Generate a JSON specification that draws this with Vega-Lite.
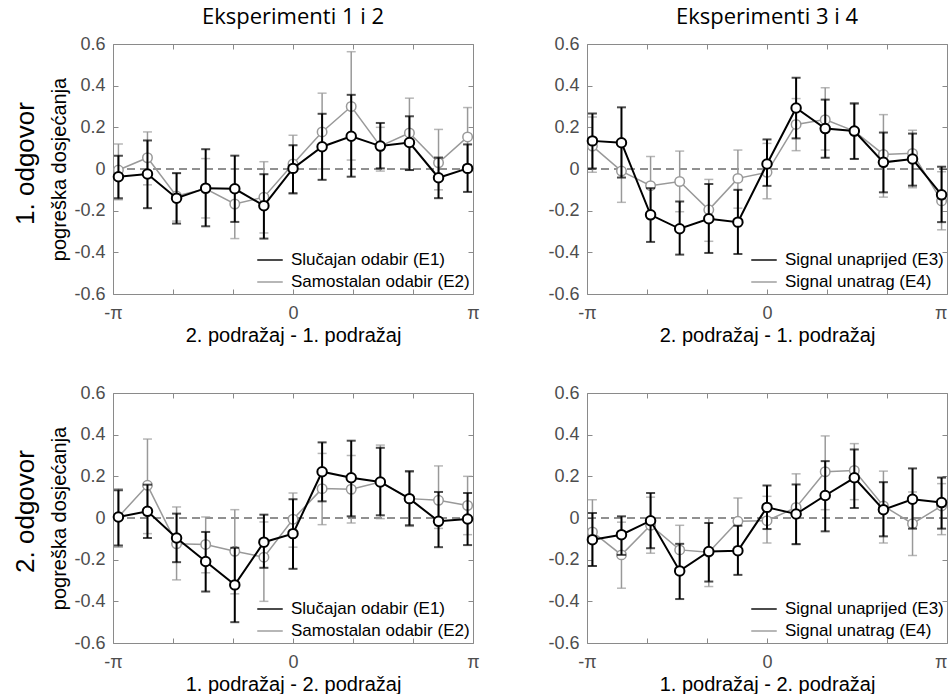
{
  "$schema": "https://vega.github.io/schema/vega-lite/v6.json",
  "padding": {"left": 11, "top": 5, "right": 0, "bottom": 0},
  "background": "#ffffff",
  "datasets": {
    "p1": [
      {"s": "Slučajan odabir (E1)", "x": -3.047, "m": -0.037, "lo": -0.14, "hi": 0.064},
      {"s": "Slučajan odabir (E1)", "x": -2.54, "m": -0.024, "lo": -0.188, "hi": 0.137},
      {"s": "Slučajan odabir (E1)", "x": -2.032, "m": -0.14, "lo": -0.262, "hi": -0.02},
      {"s": "Slučajan odabir (E1)", "x": -1.524, "m": -0.092, "lo": -0.275, "hi": 0.095},
      {"s": "Slučajan odabir (E1)", "x": -1.016, "m": -0.095, "lo": -0.254, "hi": 0.064},
      {"s": "Slučajan odabir (E1)", "x": -0.508, "m": -0.176, "lo": -0.334, "hi": -0.025},
      {"s": "Slučajan odabir (E1)", "x": 0, "m": 0.003, "lo": -0.116, "hi": 0.114},
      {"s": "Slučajan odabir (E1)", "x": 0.508, "m": 0.107, "lo": -0.052, "hi": 0.265},
      {"s": "Slučajan odabir (E1)", "x": 1.016, "m": 0.157, "lo": -0.037, "hi": 0.356},
      {"s": "Slučajan odabir (E1)", "x": 1.524, "m": 0.11, "lo": 0.003, "hi": 0.221},
      {"s": "Slučajan odabir (E1)", "x": 2.032, "m": 0.127, "lo": -0.005, "hi": 0.253},
      {"s": "Slučajan odabir (E1)", "x": 2.54, "m": -0.042, "lo": -0.14, "hi": 0.055},
      {"s": "Slučajan odabir (E1)", "x": 3.047, "m": 0.003, "lo": -0.11, "hi": 0.118},
      {"s": "Samostalan odabir (E2)", "x": -3.047, "m": -0.005, "lo": -0.148, "hi": 0.12},
      {"s": "Samostalan odabir (E2)", "x": -2.54, "m": 0.054, "lo": -0.076, "hi": 0.178},
      {"s": "Samostalan odabir (E2)", "x": -2.032, "m": -0.13, "lo": -0.25, "hi": -0.02},
      {"s": "Samostalan odabir (E2)", "x": -1.524, "m": -0.095, "lo": -0.235, "hi": 0.05},
      {"s": "Samostalan odabir (E2)", "x": -1.016, "m": -0.168, "lo": -0.334, "hi": 0.0},
      {"s": "Samostalan odabir (E2)", "x": -0.508, "m": -0.135, "lo": -0.307, "hi": 0.035},
      {"s": "Samostalan odabir (E2)", "x": 0, "m": 0.024, "lo": -0.12, "hi": 0.162},
      {"s": "Samostalan odabir (E2)", "x": 0.508, "m": 0.178, "lo": 0.0, "hi": 0.364},
      {"s": "Samostalan odabir (E2)", "x": 1.016, "m": 0.3, "lo": 0.043, "hi": 0.563},
      {"s": "Samostalan odabir (E2)", "x": 1.524, "m": 0.11, "lo": -0.01, "hi": 0.2},
      {"s": "Samostalan odabir (E2)", "x": 2.032, "m": 0.173, "lo": -0.005, "hi": 0.34},
      {"s": "Samostalan odabir (E2)", "x": 2.54, "m": 0.03, "lo": -0.1, "hi": 0.19},
      {"s": "Samostalan odabir (E2)", "x": 3.047, "m": 0.154, "lo": 0.02, "hi": 0.295}
    ],
    "p2": [
      {"s": "Signal unaprijed (E3)", "x": -3.047, "m": 0.135, "lo": 0.003, "hi": 0.266},
      {"s": "Signal unaprijed (E3)", "x": -2.54, "m": 0.126, "lo": -0.041, "hi": 0.296},
      {"s": "Signal unaprijed (E3)", "x": -2.032, "m": -0.22, "lo": -0.35, "hi": -0.092},
      {"s": "Signal unaprijed (E3)", "x": -1.524, "m": -0.287, "lo": -0.411, "hi": -0.156},
      {"s": "Signal unaprijed (E3)", "x": -1.016, "m": -0.239, "lo": -0.403, "hi": -0.072},
      {"s": "Signal unaprijed (E3)", "x": -0.508, "m": -0.255, "lo": -0.408, "hi": -0.1},
      {"s": "Signal unaprijed (E3)", "x": 0, "m": 0.024, "lo": -0.081, "hi": 0.142},
      {"s": "Signal unaprijed (E3)", "x": 0.508, "m": 0.293, "lo": 0.147, "hi": 0.438},
      {"s": "Signal unaprijed (E3)", "x": 1.016, "m": 0.194, "lo": 0.054, "hi": 0.333},
      {"s": "Signal unaprijed (E3)", "x": 1.524, "m": 0.182, "lo": 0.048, "hi": 0.314},
      {"s": "Signal unaprijed (E3)", "x": 2.032, "m": 0.032, "lo": -0.112, "hi": 0.175},
      {"s": "Signal unaprijed (E3)", "x": 2.54, "m": 0.048, "lo": -0.08, "hi": 0.17},
      {"s": "Signal unaprijed (E3)", "x": 3.047, "m": -0.124, "lo": -0.255, "hi": 0.011},
      {"s": "Signal unatrag (E4)", "x": -3.047, "m": 0.11, "lo": -0.016, "hi": 0.25},
      {"s": "Signal unatrag (E4)", "x": -2.54, "m": -0.01, "lo": -0.16, "hi": 0.13},
      {"s": "Signal unatrag (E4)", "x": -2.032, "m": -0.08, "lo": -0.22, "hi": 0.06},
      {"s": "Signal unatrag (E4)", "x": -1.524, "m": -0.06, "lo": -0.205, "hi": 0.086},
      {"s": "Signal unatrag (E4)", "x": -1.016, "m": -0.196, "lo": -0.347, "hi": -0.05},
      {"s": "Signal unatrag (E4)", "x": -0.508, "m": -0.045, "lo": -0.188, "hi": 0.091},
      {"s": "Signal unatrag (E4)", "x": 0, "m": -0.016, "lo": -0.143, "hi": 0.123},
      {"s": "Signal unatrag (E4)", "x": 0.508, "m": 0.214, "lo": 0.088, "hi": 0.338},
      {"s": "Signal unatrag (E4)", "x": 1.016, "m": 0.237, "lo": 0.091, "hi": 0.39},
      {"s": "Signal unatrag (E4)", "x": 1.524, "m": 0.182, "lo": 0.05, "hi": 0.318},
      {"s": "Signal unatrag (E4)", "x": 2.032, "m": 0.07, "lo": -0.135, "hi": 0.261},
      {"s": "Signal unatrag (E4)", "x": 2.54, "m": 0.075, "lo": -0.09, "hi": 0.186},
      {"s": "Signal unatrag (E4)", "x": 3.047, "m": -0.153, "lo": -0.292, "hi": -0.013}
    ],
    "p3": [
      {"s": "Slučajan odabir (E1)", "x": -3.047, "m": 0.005, "lo": -0.132, "hi": 0.133},
      {"s": "Slučajan odabir (E1)", "x": -2.54, "m": 0.032, "lo": -0.096, "hi": 0.16},
      {"s": "Slučajan odabir (E1)", "x": -2.032, "m": -0.096, "lo": -0.212, "hi": 0.021},
      {"s": "Slučajan odabir (E1)", "x": -1.524, "m": -0.209, "lo": -0.353, "hi": -0.067},
      {"s": "Slučajan odabir (E1)", "x": -1.016, "m": -0.321, "lo": -0.5, "hi": -0.143},
      {"s": "Slučajan odabir (E1)", "x": -0.508, "m": -0.116, "lo": -0.239, "hi": 0.016},
      {"s": "Slučajan odabir (E1)", "x": 0, "m": -0.075, "lo": -0.244, "hi": 0.09},
      {"s": "Slučajan odabir (E1)", "x": 0.508, "m": 0.222, "lo": 0.08, "hi": 0.363},
      {"s": "Slučajan odabir (E1)", "x": 1.016, "m": 0.193, "lo": 0.008, "hi": 0.371},
      {"s": "Slučajan odabir (E1)", "x": 1.524, "m": 0.173, "lo": 0.013, "hi": 0.337},
      {"s": "Slučajan odabir (E1)", "x": 2.032, "m": 0.093, "lo": -0.035, "hi": 0.225},
      {"s": "Slučajan odabir (E1)", "x": 2.54, "m": -0.016, "lo": -0.14, "hi": 0.125},
      {"s": "Slučajan odabir (E1)", "x": 3.047, "m": -0.005, "lo": -0.13, "hi": 0.12},
      {"s": "Samostalan odabir (E2)", "x": -3.047, "m": 0.005, "lo": -0.14, "hi": 0.141},
      {"s": "Samostalan odabir (E2)", "x": -2.54, "m": 0.157, "lo": -0.075, "hi": 0.379},
      {"s": "Samostalan odabir (E2)", "x": -2.032, "m": -0.124, "lo": -0.297, "hi": 0.053},
      {"s": "Samostalan odabir (E2)", "x": -1.524, "m": -0.127, "lo": -0.263, "hi": 0.005},
      {"s": "Samostalan odabir (E2)", "x": -1.016, "m": -0.16, "lo": -0.364, "hi": 0.04},
      {"s": "Samostalan odabir (E2)", "x": -0.508, "m": -0.188, "lo": -0.4, "hi": -0.019},
      {"s": "Samostalan odabir (E2)", "x": 0, "m": -0.006, "lo": -0.14, "hi": 0.12},
      {"s": "Samostalan odabir (E2)", "x": 0.508, "m": 0.141, "lo": -0.032, "hi": 0.31},
      {"s": "Samostalan odabir (E2)", "x": 1.016, "m": 0.138, "lo": -0.024, "hi": 0.3},
      {"s": "Samostalan odabir (E2)", "x": 1.524, "m": 0.173, "lo": -0.003, "hi": 0.35},
      {"s": "Samostalan odabir (E2)", "x": 2.032, "m": 0.093, "lo": -0.04, "hi": 0.22},
      {"s": "Samostalan odabir (E2)", "x": 2.54, "m": 0.085, "lo": -0.05, "hi": 0.25},
      {"s": "Samostalan odabir (E2)", "x": 3.047, "m": 0.06, "lo": -0.08, "hi": 0.2}
    ],
    "p4": [
      {"s": "Signal unaprijed (E3)", "x": -3.047, "m": -0.104, "lo": -0.23, "hi": 0.024},
      {"s": "Signal unaprijed (E3)", "x": -2.54, "m": -0.08, "lo": -0.177, "hi": 0.008},
      {"s": "Signal unaprijed (E3)", "x": -2.032, "m": -0.013, "lo": -0.145, "hi": 0.12},
      {"s": "Signal unaprijed (E3)", "x": -1.524, "m": -0.254, "lo": -0.389, "hi": -0.124},
      {"s": "Signal unaprijed (E3)", "x": -1.016, "m": -0.161, "lo": -0.305, "hi": -0.024},
      {"s": "Signal unaprijed (E3)", "x": -0.508, "m": -0.157, "lo": -0.273, "hi": -0.037},
      {"s": "Signal unaprijed (E3)", "x": 0, "m": 0.051, "lo": -0.053, "hi": 0.156},
      {"s": "Signal unaprijed (E3)", "x": 0.508, "m": 0.019, "lo": -0.125, "hi": 0.161},
      {"s": "Signal unaprijed (E3)", "x": 1.016, "m": 0.108, "lo": -0.064, "hi": 0.273},
      {"s": "Signal unaprijed (E3)", "x": 1.524, "m": 0.193, "lo": 0.048, "hi": 0.329},
      {"s": "Signal unaprijed (E3)", "x": 2.032, "m": 0.04, "lo": -0.088, "hi": 0.172},
      {"s": "Signal unaprijed (E3)", "x": 2.54, "m": 0.09, "lo": -0.051, "hi": 0.238},
      {"s": "Signal unaprijed (E3)", "x": 3.047, "m": 0.074, "lo": -0.051, "hi": 0.194},
      {"s": "Signal unatrag (E4)", "x": -3.047, "m": -0.067, "lo": -0.23, "hi": 0.088},
      {"s": "Signal unatrag (E4)", "x": -2.54, "m": -0.177, "lo": -0.337, "hi": -0.02},
      {"s": "Signal unatrag (E4)", "x": -2.032, "m": -0.035, "lo": -0.169, "hi": 0.1},
      {"s": "Signal unatrag (E4)", "x": -1.524, "m": -0.153, "lo": -0.27, "hi": -0.035},
      {"s": "Signal unatrag (E4)", "x": -1.016, "m": -0.164, "lo": -0.329, "hi": 0.0},
      {"s": "Signal unatrag (E4)", "x": -0.508, "m": -0.016, "lo": -0.137, "hi": 0.096},
      {"s": "Signal unatrag (E4)", "x": 0, "m": -0.013, "lo": -0.12, "hi": 0.104},
      {"s": "Signal unatrag (E4)", "x": 0.508, "m": 0.051, "lo": -0.128, "hi": 0.212},
      {"s": "Signal unatrag (E4)", "x": 1.016, "m": 0.222, "lo": 0.04, "hi": 0.394},
      {"s": "Signal unatrag (E4)", "x": 1.524, "m": 0.228, "lo": 0.088, "hi": 0.357},
      {"s": "Signal unatrag (E4)", "x": 2.032, "m": 0.058, "lo": -0.12, "hi": 0.225},
      {"s": "Signal unatrag (E4)", "x": 2.54, "m": -0.027, "lo": -0.18, "hi": 0.125},
      {"s": "Signal unatrag (E4)", "x": 3.047, "m": 0.058, "lo": -0.08, "hi": 0.165}
    ]
  },
  "columns": 2,
  "bounds": "flush",
  "spacing": {"row": 99, "column": 114},
  "resolve": {"scale": {"color": "independent"}},
  "concat": [
    {
      "width": 360, "height": 250,
      "title": {"text": "Eksperimenti 1 i 2"},
      "data": {"name": "p1"},
      "layer": [
        {"data": {"values": [{"zero": 0}]},
         "mark": {"type": "rule", "strokeDash": [8, 5], "color": "#222222", "strokeWidth": 1},
         "encoding": {"y": {"field": "zero", "type": "quantitative", "scale": {"domain": [-0.6, 0.6], "nice": false, "zero": false},
           "axis": {"orient": "left", "labels": false, "ticks": false, "domain": true, "domainColor": "transparent", "title": "1. odgovor", "titleFontSize": 26, "titlePadding": 75, "titleY": 119}}}},
        {"transform": [{"filter": {"field": "s", "equal": "Samostalan odabir (E2)"}}],
         "mark": {"type": "errorbar", "ticks": {"size": 9}, "thickness": 1.5},
         "encoding": {
           "x": {"field": "x", "type": "quantitative", "scale": {"domain": [-3.14159, 3.14159], "nice": false, "zero": false}, "axis": null},
           "y": {"field": "lo", "type": "quantitative", "scale": {"domain": [-0.6, 0.6], "nice": false, "zero": false}, "axis": null},
           "y2": {"field": "hi"},
           "color": {"field": "s", "type": "nominal", "scale": {"domain": ["Slučajan odabir (E1)", "Samostalan odabir (E2)"], "range": ["#000000", "#999999"]}}}},
        {"transform": [{"filter": {"field": "s", "equal": "Samostalan odabir (E2)"}}],
         "mark": {"type": "line", "strokeWidth": 1.5},
         "encoding": {
           "x": {"field": "x", "type": "quantitative", "axis": null},
           "y": {"field": "m", "type": "quantitative", "axis": null},
           "color": {"field": "s", "type": "nominal"}}},
        {"transform": [{"filter": {"field": "s", "equal": "Samostalan odabir (E2)"}}],
         "mark": {"type": "point", "shape": "circle", "filled": false, "fill": "#ffffff", "size": 90, "strokeWidth": 1.5, "opacity": 1},
         "encoding": {
           "x": {"field": "x", "type": "quantitative", "axis": {"orient": "top", "values": [-3.14159, -2.0944, -1.0472, 0, 1.0472, 2.0944, 3.14159], "labels": false, "title": null}},
           "y": {"field": "m", "type": "quantitative", "axis": {"orient": "right", "values": [-0.6, -0.4, -0.2, 0, 0.2, 0.4, 0.6], "labels": false, "title": null}},
           "color": {"field": "s", "type": "nominal"}}},
        {"transform": [{"filter": {"field": "s", "equal": "Slučajan odabir (E1)"}}],
         "mark": {"type": "errorbar", "ticks": {"size": 9}, "thickness": 2},
         "encoding": {
           "x": {"field": "x", "type": "quantitative", "axis": null},
           "y": {"field": "lo", "type": "quantitative", "axis": null},
           "y2": {"field": "hi"},
           "color": {"field": "s", "type": "nominal"}}},
        {"transform": [{"filter": {"field": "s", "equal": "Slučajan odabir (E1)"}}],
         "mark": {"type": "line", "strokeWidth": 2},
         "encoding": {
           "x": {"field": "x", "type": "quantitative", "axis": null},
           "y": {"field": "m", "type": "quantitative", "axis": null},
           "color": {"field": "s", "type": "nominal", "legend": {"title": null, "symbolType": "stroke", "orient": "none", "legendX": 143, "legendY": 202}}}},
        {"transform": [{"filter": {"field": "s", "equal": "Slučajan odabir (E1)"}}],
         "mark": {"type": "point", "shape": "circle", "filled": false, "fill": "#ffffff", "size": 90, "strokeWidth": 2, "opacity": 1},
         "encoding": {
           "x": {"field": "x", "type": "quantitative", "axis": {"orient": "bottom", "values": [-3.14159, -2.0944, -1.0472, 0, 1.0472, 2.0944, 3.14159], "labelPadding": 15, "labelExpr": "datum.value < -3 ? '-π' : (datum.value > 3 ? 'π' : (abs(datum.value) < 0.01 ? '0' : ''))", "title": "2. podražaj - 1. podražaj", "titleFontSize": 20, "titlePadding": 3}},
           "y": {"field": "m", "type": "quantitative", "axis": {"orient": "left", "values": [-0.6, -0.4, -0.2, 0, 0.2, 0.4, 0.6], "labelExpr": "datum.value == 0 ? '0' : (datum.value < 0 ? '-' : '') + format(abs(datum.value), '.1f')", "title": "pogreška dosjećanja", "titleFontSize": 20, "titlePadding": 4}},
           "color": {"field": "s", "type": "nominal"}}}
      ]
    },
    {
      "width": 360, "height": 250,
      "title": {"text": "Eksperimenti 3 i 4"},
      "data": {"name": "p2"},
      "layer": [
        {"data": {"values": [{"zero": 0}]},
         "mark": {"type": "rule", "strokeDash": [8, 5], "color": "#222222", "strokeWidth": 1},
         "encoding": {"y": {"field": "zero", "type": "quantitative", "scale": {"domain": [-0.6, 0.6], "nice": false, "zero": false}, "axis": null}}},
        {"transform": [{"filter": {"field": "s", "equal": "Signal unatrag (E4)"}}],
         "mark": {"type": "errorbar", "ticks": {"size": 9}, "thickness": 1.5},
         "encoding": {
           "x": {"field": "x", "type": "quantitative", "scale": {"domain": [-3.14159, 3.14159], "nice": false, "zero": false}, "axis": null},
           "y": {"field": "lo", "type": "quantitative", "scale": {"domain": [-0.6, 0.6], "nice": false, "zero": false}, "axis": null},
           "y2": {"field": "hi"},
           "color": {"field": "s", "type": "nominal", "scale": {"domain": ["Signal unaprijed (E3)", "Signal unatrag (E4)"], "range": ["#000000", "#999999"]}}}},
        {"transform": [{"filter": {"field": "s", "equal": "Signal unatrag (E4)"}}],
         "mark": {"type": "line", "strokeWidth": 1.5},
         "encoding": {
           "x": {"field": "x", "type": "quantitative", "axis": null},
           "y": {"field": "m", "type": "quantitative", "axis": null},
           "color": {"field": "s", "type": "nominal"}}},
        {"transform": [{"filter": {"field": "s", "equal": "Signal unatrag (E4)"}}],
         "mark": {"type": "point", "shape": "circle", "filled": false, "fill": "#ffffff", "size": 90, "strokeWidth": 1.5, "opacity": 1},
         "encoding": {
           "x": {"field": "x", "type": "quantitative", "axis": {"orient": "top", "values": [-3.14159, -2.0944, -1.0472, 0, 1.0472, 2.0944, 3.14159], "labels": false, "title": null}},
           "y": {"field": "m", "type": "quantitative", "axis": {"orient": "right", "values": [-0.6, -0.4, -0.2, 0, 0.2, 0.4, 0.6], "labels": false, "title": null}},
           "color": {"field": "s", "type": "nominal"}}},
        {"transform": [{"filter": {"field": "s", "equal": "Signal unaprijed (E3)"}}],
         "mark": {"type": "errorbar", "ticks": {"size": 9}, "thickness": 2},
         "encoding": {
           "x": {"field": "x", "type": "quantitative", "axis": null},
           "y": {"field": "lo", "type": "quantitative", "axis": null},
           "y2": {"field": "hi"},
           "color": {"field": "s", "type": "nominal"}}},
        {"transform": [{"filter": {"field": "s", "equal": "Signal unaprijed (E3)"}}],
         "mark": {"type": "line", "strokeWidth": 2},
         "encoding": {
           "x": {"field": "x", "type": "quantitative", "axis": null},
           "y": {"field": "m", "type": "quantitative", "axis": null},
           "color": {"field": "s", "type": "nominal", "legend": {"title": null, "symbolType": "stroke", "orient": "none", "legendX": 163, "legendY": 202}}}},
        {"transform": [{"filter": {"field": "s", "equal": "Signal unaprijed (E3)"}}],
         "mark": {"type": "point", "shape": "circle", "filled": false, "fill": "#ffffff", "size": 90, "strokeWidth": 2, "opacity": 1},
         "encoding": {
           "x": {"field": "x", "type": "quantitative", "axis": {"orient": "bottom", "values": [-3.14159, -2.0944, -1.0472, 0, 1.0472, 2.0944, 3.14159], "labelPadding": 15, "labelAlign": {"condition": {"test": "datum.value > 3", "value": "right"}, "value": "center"}, "labelExpr": "datum.value < -3 ? '-π' : (datum.value > 3 ? 'π' : (abs(datum.value) < 0.01 ? '0' : ''))", "title": "2. podražaj - 1. podražaj", "titleFontSize": 20, "titlePadding": 3}},
           "y": {"field": "m", "type": "quantitative", "axis": {"orient": "left", "values": [-0.6, -0.4, -0.2, 0, 0.2, 0.4, 0.6], "labelExpr": "datum.value == 0 ? '0' : (datum.value < 0 ? '-' : '') + format(abs(datum.value), '.1f')", "title": null}},
           "color": {"field": "s", "type": "nominal"}}}
      ]
    },
    {
      "width": 360, "height": 250,
      "data": {"name": "p3"},
      "layer": [
        {"data": {"values": [{"zero": 0}]},
         "mark": {"type": "rule", "strokeDash": [8, 5], "color": "#222222", "strokeWidth": 1},
         "encoding": {"y": {"field": "zero", "type": "quantitative", "scale": {"domain": [-0.6, 0.6], "nice": false, "zero": false},
           "axis": {"orient": "left", "labels": false, "ticks": false, "domain": true, "domainColor": "transparent", "title": "2. odgovor", "titleFontSize": 26, "titlePadding": 75, "titleY": 118}}}},
        {"transform": [{"filter": {"field": "s", "equal": "Samostalan odabir (E2)"}}],
         "mark": {"type": "errorbar", "ticks": {"size": 9}, "thickness": 1.5},
         "encoding": {
           "x": {"field": "x", "type": "quantitative", "scale": {"domain": [-3.14159, 3.14159], "nice": false, "zero": false}, "axis": null},
           "y": {"field": "lo", "type": "quantitative", "scale": {"domain": [-0.6, 0.6], "nice": false, "zero": false}, "axis": null},
           "y2": {"field": "hi"},
           "color": {"field": "s", "type": "nominal", "scale": {"domain": ["Slučajan odabir (E1)", "Samostalan odabir (E2)"], "range": ["#000000", "#999999"]}}}},
        {"transform": [{"filter": {"field": "s", "equal": "Samostalan odabir (E2)"}}],
         "mark": {"type": "line", "strokeWidth": 1.5},
         "encoding": {
           "x": {"field": "x", "type": "quantitative", "axis": null},
           "y": {"field": "m", "type": "quantitative", "axis": null},
           "color": {"field": "s", "type": "nominal"}}},
        {"transform": [{"filter": {"field": "s", "equal": "Samostalan odabir (E2)"}}],
         "mark": {"type": "point", "shape": "circle", "filled": false, "fill": "#ffffff", "size": 90, "strokeWidth": 1.5, "opacity": 1},
         "encoding": {
           "x": {"field": "x", "type": "quantitative", "axis": {"orient": "top", "values": [-3.14159, -2.0944, -1.0472, 0, 1.0472, 2.0944, 3.14159], "labels": false, "title": null}},
           "y": {"field": "m", "type": "quantitative", "axis": {"orient": "right", "values": [-0.6, -0.4, -0.2, 0, 0.2, 0.4, 0.6], "labels": false, "title": null}},
           "color": {"field": "s", "type": "nominal"}}},
        {"transform": [{"filter": {"field": "s", "equal": "Slučajan odabir (E1)"}}],
         "mark": {"type": "errorbar", "ticks": {"size": 9}, "thickness": 2},
         "encoding": {
           "x": {"field": "x", "type": "quantitative", "axis": null},
           "y": {"field": "lo", "type": "quantitative", "axis": null},
           "y2": {"field": "hi"},
           "color": {"field": "s", "type": "nominal"}}},
        {"transform": [{"filter": {"field": "s", "equal": "Slučajan odabir (E1)"}}],
         "mark": {"type": "line", "strokeWidth": 2},
         "encoding": {
           "x": {"field": "x", "type": "quantitative", "axis": null},
           "y": {"field": "m", "type": "quantitative", "axis": null},
           "color": {"field": "s", "type": "nominal", "legend": {"title": null, "symbolType": "stroke", "orient": "none", "legendX": 143, "legendY": 202}}}},
        {"transform": [{"filter": {"field": "s", "equal": "Slučajan odabir (E1)"}}],
         "mark": {"type": "point", "shape": "circle", "filled": false, "fill": "#ffffff", "size": 90, "strokeWidth": 2, "opacity": 1},
         "encoding": {
           "x": {"field": "x", "type": "quantitative", "axis": {"orient": "bottom", "values": [-3.14159, -2.0944, -1.0472, 0, 1.0472, 2.0944, 3.14159], "labelPadding": 15, "labelExpr": "datum.value < -3 ? '-π' : (datum.value > 3 ? 'π' : (abs(datum.value) < 0.01 ? '0' : ''))", "title": "1. podražaj - 2. podražaj", "titleFontSize": 20, "titlePadding": 3}},
           "y": {"field": "m", "type": "quantitative", "axis": {"orient": "left", "values": [-0.6, -0.4, -0.2, 0, 0.2, 0.4, 0.6], "labelExpr": "datum.value == 0 ? '0' : (datum.value < 0 ? '-' : '') + format(abs(datum.value), '.1f')", "title": "pogreška dosjećanja", "titleFontSize": 20, "titlePadding": 4}},
           "color": {"field": "s", "type": "nominal"}}}
      ]
    },
    {
      "width": 360, "height": 250,
      "data": {"name": "p4"},
      "layer": [
        {"data": {"values": [{"zero": 0}]},
         "mark": {"type": "rule", "strokeDash": [8, 5], "color": "#222222", "strokeWidth": 1},
         "encoding": {"y": {"field": "zero", "type": "quantitative", "scale": {"domain": [-0.6, 0.6], "nice": false, "zero": false}, "axis": null}}},
        {"transform": [{"filter": {"field": "s", "equal": "Signal unatrag (E4)"}}],
         "mark": {"type": "errorbar", "ticks": {"size": 9}, "thickness": 1.5},
         "encoding": {
           "x": {"field": "x", "type": "quantitative", "scale": {"domain": [-3.14159, 3.14159], "nice": false, "zero": false}, "axis": null},
           "y": {"field": "lo", "type": "quantitative", "scale": {"domain": [-0.6, 0.6], "nice": false, "zero": false}, "axis": null},
           "y2": {"field": "hi"},
           "color": {"field": "s", "type": "nominal", "scale": {"domain": ["Signal unaprijed (E3)", "Signal unatrag (E4)"], "range": ["#000000", "#999999"]}}}},
        {"transform": [{"filter": {"field": "s", "equal": "Signal unatrag (E4)"}}],
         "mark": {"type": "line", "strokeWidth": 1.5},
         "encoding": {
           "x": {"field": "x", "type": "quantitative", "axis": null},
           "y": {"field": "m", "type": "quantitative", "axis": null},
           "color": {"field": "s", "type": "nominal"}}},
        {"transform": [{"filter": {"field": "s", "equal": "Signal unatrag (E4)"}}],
         "mark": {"type": "point", "shape": "circle", "filled": false, "fill": "#ffffff", "size": 90, "strokeWidth": 1.5, "opacity": 1},
         "encoding": {
           "x": {"field": "x", "type": "quantitative", "axis": {"orient": "top", "values": [-3.14159, -2.0944, -1.0472, 0, 1.0472, 2.0944, 3.14159], "labels": false, "title": null}},
           "y": {"field": "m", "type": "quantitative", "axis": {"orient": "right", "values": [-0.6, -0.4, -0.2, 0, 0.2, 0.4, 0.6], "labels": false, "title": null}},
           "color": {"field": "s", "type": "nominal"}}},
        {"transform": [{"filter": {"field": "s", "equal": "Signal unaprijed (E3)"}}],
         "mark": {"type": "errorbar", "ticks": {"size": 9}, "thickness": 2},
         "encoding": {
           "x": {"field": "x", "type": "quantitative", "axis": null},
           "y": {"field": "lo", "type": "quantitative", "axis": null},
           "y2": {"field": "hi"},
           "color": {"field": "s", "type": "nominal"}}},
        {"transform": [{"filter": {"field": "s", "equal": "Signal unaprijed (E3)"}}],
         "mark": {"type": "line", "strokeWidth": 2},
         "encoding": {
           "x": {"field": "x", "type": "quantitative", "axis": null},
           "y": {"field": "m", "type": "quantitative", "axis": null},
           "color": {"field": "s", "type": "nominal", "legend": {"title": null, "symbolType": "stroke", "orient": "none", "legendX": 163, "legendY": 202}}}},
        {"transform": [{"filter": {"field": "s", "equal": "Signal unaprijed (E3)"}}],
         "mark": {"type": "point", "shape": "circle", "filled": false, "fill": "#ffffff", "size": 90, "strokeWidth": 2, "opacity": 1},
         "encoding": {
           "x": {"field": "x", "type": "quantitative", "axis": {"orient": "bottom", "values": [-3.14159, -2.0944, -1.0472, 0, 1.0472, 2.0944, 3.14159], "labelPadding": 15, "labelAlign": {"condition": {"test": "datum.value > 3", "value": "right"}, "value": "center"}, "labelExpr": "datum.value < -3 ? '-π' : (datum.value > 3 ? 'π' : (abs(datum.value) < 0.01 ? '0' : ''))", "title": "1. podražaj - 2. podražaj", "titleFontSize": 20, "titlePadding": 3}},
           "y": {"field": "m", "type": "quantitative", "axis": {"orient": "left", "values": [-0.6, -0.4, -0.2, 0, 0.2, 0.4, 0.6], "labelExpr": "datum.value == 0 ? '0' : (datum.value < 0 ? '-' : '') + format(abs(datum.value), '.1f')", "title": null}},
           "color": {"field": "s", "type": "nominal"}}}
      ]
    }
  ],
  "config": {
    "font": "Liberation Sans",
    "view": {"stroke": "#8a8a8a", "strokeWidth": 1},
    "axis": {"domain": false, "grid": false, "tickColor": "#8a8a8a", "tickSize": -5, "tickWidth": 1, "labelPadding": 13, "labelFlush": false, "labelFont": "Liberation Sans", "labelFontSize": 18, "labelColor": "#4d4d4d", "titleFont": "Liberation Sans", "titleFontWeight": "normal", "titleColor": "#000000"},
    "title": {"font": "Open Sans", "fontSize": 22, "fontWeight": "normal", "color": "#000000", "offset": 6, "anchor": "middle", "frame": "group"},
    "legend": {"padding": 0, "symbolType": "stroke", "symbolSize": 650, "symbolStrokeWidth": 2, "labelFont": "Liberation Sans", "labelFontSize": 17, "labelColor": "#000000", "labelOffset": 7, "labelLimit": 300, "rowPadding": -6}
  }
}
